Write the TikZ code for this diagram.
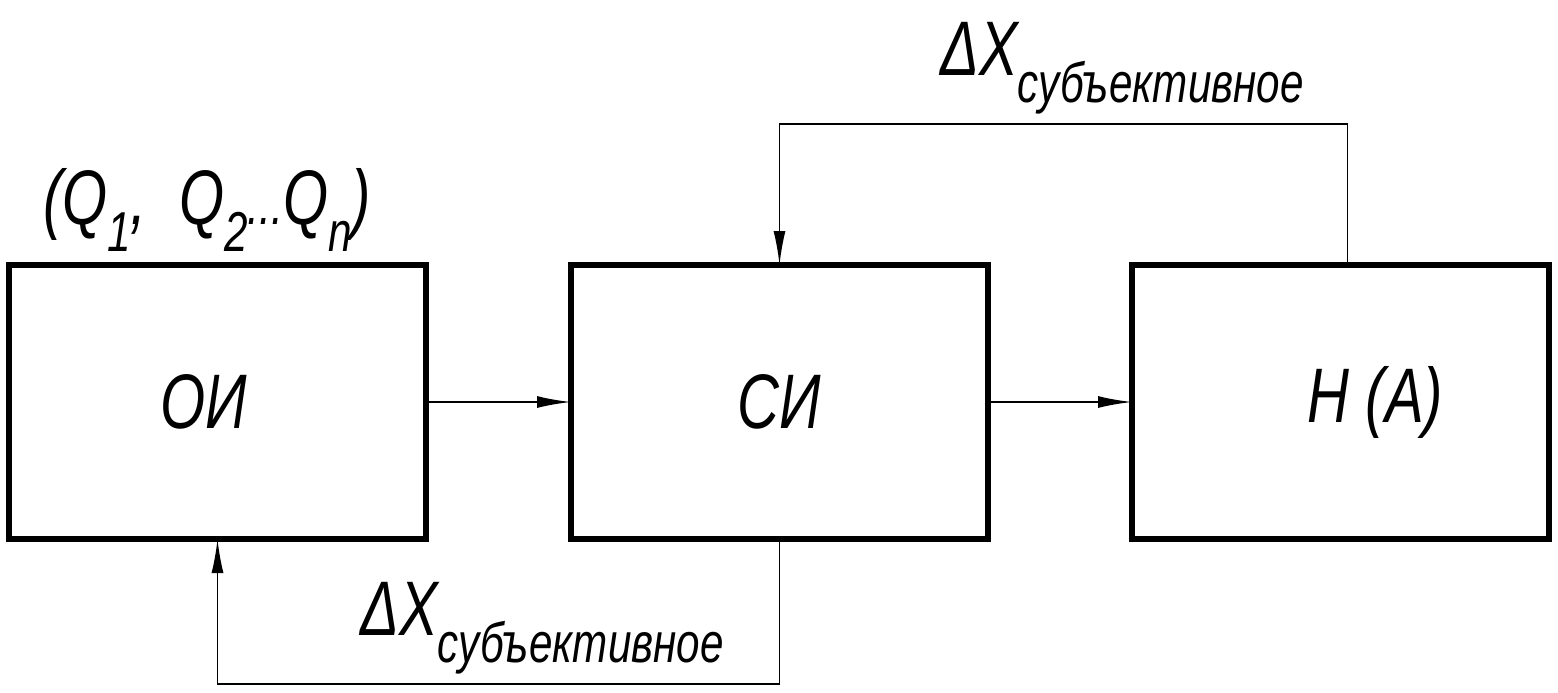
\documentclass[tikz,border=0pt]{standalone}
\usepackage{fontspec}
\newfontfamily\gostfont[FakeStretch=0.75]{Liberation Sans}
\usetikzlibrary{arrows.meta, positioning}
\newcommand{\lowidx}[1]{\raisebox{-0.35em}{\fontsize{16}{18}\selectfont #1}}

\begin{document}
\begin{tikzpicture}[
  block/.style={draw, line width=1.6pt, minimum width=4.17cm, minimum height=2.74cm, outer sep=0pt},
  link/.style={-{Latex[length=3.4mm,width=1.2mm]}, line width=0.55pt},
  every node/.style={font=\gostfont\itshape\fontsize{22}{26}\selectfont}
]
  \useasboundingbox (0,0) rectangle (15.58,-6.92);
  \node[block] (oi) at (2.175,-4.02) {};
  \node[block, right=1.45cm of oi] (si) {};
  \node[block, right=1.44cm of si] (na) {};
  \node (oitext) at ([xshift=-0.14cm]oi.center) {ОИ};
  \node (sitext) at (si.center) {СИ};
  \node (natext) at ([xshift=0.35cm]na.center) {Н (А)};
  \node (qlist) at (2.07,-2.1) {(Q\lowidx{1},\ \ Q\lowidx{2}{\fontsize{16}{18}\selectfont...}Q\lowidx{n})};
  \node (dxtop) at (11.22,-0.68) {ΔX\lowidx{субъективное}};
  \node (dxbot) at (5.42,-6.28) {ΔX\lowidx{субъективное}};
  \draw[link] (oi) -- (si);
  \draw[link] (si) -- (na);
  \draw[link] ([xshift=0.07cm]na.north) -- ++(0,1.41) -| (si.north);
  \draw[link] (si.south) -- ++(0,-1.45) -| (oi.south);
\end{tikzpicture}
\end{document}
